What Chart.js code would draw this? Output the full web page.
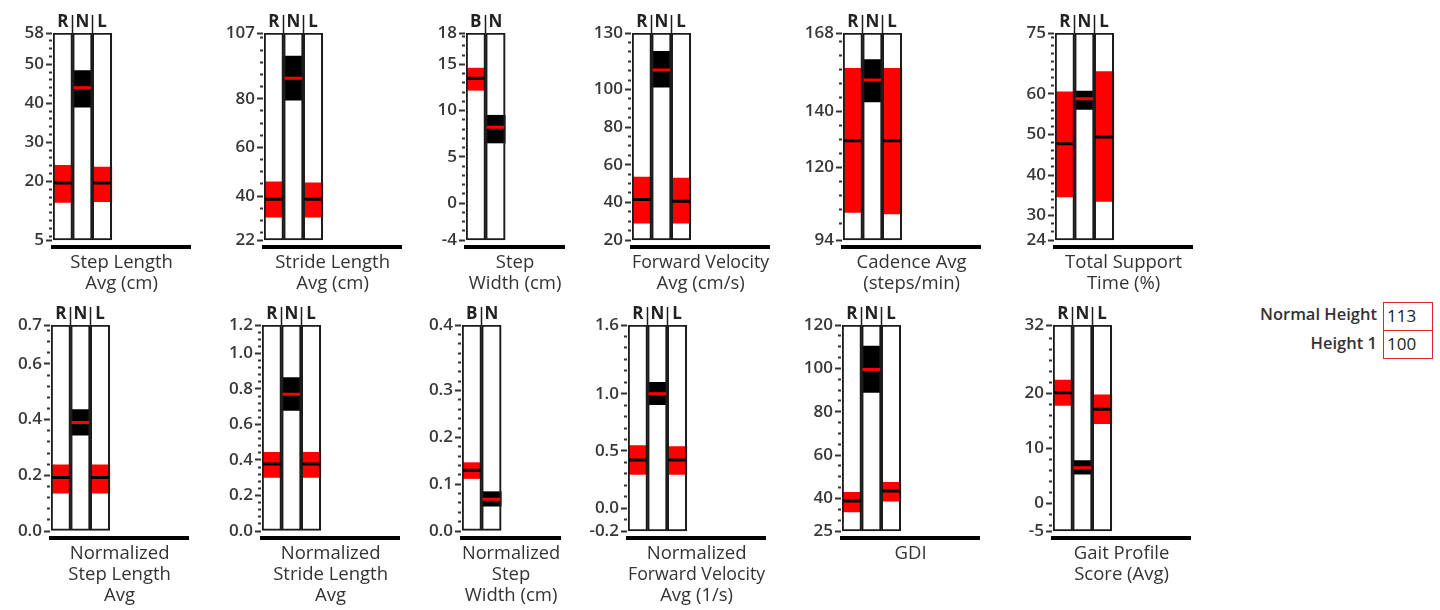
<!DOCTYPE html>
<html>
<head>
<meta charset="utf-8">
<script src="https://cdn.jsdelivr.net/npm/chart.js@4.4.1/dist/chart.umd.min.js"></script>
<style>
  html, body { margin: 0; padding: 0; background: #ffffff; width: 1440px; height: 610px; overflow: hidden; position: relative; }
  .panel { position: absolute; }
  .panel canvas { display: block; }
  .flabel { position: absolute; width: 200px; text-align: right; font-family: 'Open Sans', 'Noto Sans', sans-serif; font-size: 16.5px; font-weight: 600; color: #333; line-height: 20px; }
  .fbox { position: absolute; box-sizing: border-box; border: 1.5px solid #e0242c; font-family: 'Open Sans', 'Noto Sans', sans-serif; font-size: 17px; color: #222; padding-left: 3px; }
</style>
</head>
<body>
<div class="flabel" style="left:1177px; top:304px;">Normal Height</div>
<div class="fbox" style="left:1383px; top:302px; width:50px; height:29px; line-height:26px;">113</div>
<div class="flabel" style="left:1177px; top:333px;">Height 1</div>
<div class="fbox" style="left:1383px; top:330px; width:50px; height:29px; line-height:26px;">100</div>
<script>
// ---------------- DATA ----------------
const colsRNL = ['R', 'N', 'L'];
const colsBN = ['B', 'N'];

// 1 Step Length Avg (cm)
const stepLenTitle = ['Step Length', 'Avg (cm)'];
const stepLenRange = [[14.6, 24.1], [39.0, 48.4], [14.8, 23.7]];
const stepLenMean = [19.6, 44.0, 19.6];
const stepLenAxis = [5, 58];
const stepLenTicks = [5, 20, 30, 40, 50, 58];
const stepLenTickText = ['5', '20', '30', '40', '50', '58'];

// 2 Stride Length Avg (cm)
const strideLenTitle = ['Stride Length', 'Avg (cm)'];
const strideLenRange = [[31.4, 45.9], [79.4, 97.5], [31.4, 45.5]];
const strideLenMean = [38.7, 88.4, 38.7];
const strideLenAxis = [22, 107];
const strideLenTicks = [22, 40, 60, 80, 107];
const strideLenTickText = ['22', '40', '60', '80', '107'];

// 3 Step Width (cm)
const stepWidthTitle = ['Step', 'Width (cm)'];
const stepWidthRange = [[12.2, 14.6], [6.5, 9.5]];
const stepWidthMean = [13.5, 8.2];
const stepWidthAxis = [-4, 18.4];
const stepWidthTicks = [-4, 0, 5, 10, 15, 18.4];
const stepWidthTickText = ['-4', '0', '5', '10', '15', '18'];

// 4 Forward Velocity Avg (cm/s)
const fwdVelTitle = ['Forward Velocity', 'Avg (cm/s)'];
const fwdVelRange = [[28.9, 53.4], [101.2, 120.2], [28.9, 52.9]];
const fwdVelMean = [41.5, 110.4, 40.6];
const fwdVelAxis = [20, 130];
const fwdVelTicks = [20, 40, 60, 80, 100, 130];
const fwdVelTickText = ['20', '40', '60', '80', '100', '130'];

// 5 Cadence Avg (steps/min)
const cadenceTitle = ['Cadence Avg', '(steps/min)'];
const cadenceRange = [[103.9, 155.4], [143.4, 158.5], [103.3, 155.4]];
const cadenceMean = [129.5, 151.2, 129.5];
const cadenceAxis = [94, 168];
const cadenceTicks = [94, 120, 140, 168];
const cadenceTickText = ['94', '120', '140', '168'];

// 6 Total Support Time (%)
const supportTitle = ['Total Support', 'Time (%)'];
const supportRange = [[34.6, 60.5], [56.2, 60.7], [33.5, 65.5]];
const supportMean = [47.7, 58.8, 49.4];
const supportAxis = [24, 75];
const supportTicks = [24, 30, 40, 50, 60, 75];
const supportTickText = ['24', '30', '40', '50', '60', '75'];

// 7 Normalized Step Length Avg
const nStepLenTitle = ['Normalized', 'Step Length', 'Avg'];
const nStepLenRange = [[0.136, 0.238], [0.344, 0.436], [0.136, 0.238]];
const nStepLenMean = [0.192, 0.39, 0.192];
const nStepLenAxis = [0, 0.74];
const nStepLenTicks = [0, 0.2, 0.4, 0.6, 0.74];
const nStepLenTickText = ['0.0', '0.2', '0.4', '0.6', '0.7'];

// 8 Normalized Stride Length Avg
const nStrideLenTitle = ['Normalized', 'Stride Length', 'Avg'];
const nStrideLenRange = [[0.302, 0.443], [0.679, 0.864], [0.302, 0.443]];
const nStrideLenMean = [0.377, 0.77, 0.377];
const nStrideLenAxis = [0, 1.16];
const nStrideLenTicks = [0, 0.2, 0.4, 0.6, 0.8, 1.0, 1.16];
const nStrideLenTickText = ['0.0', '0.2', '0.4', '0.6', '0.8', '1.0', '1.2'];

// 9 Normalized Step Width (cm)
const nStepWidthTitle = ['Normalized', 'Step', 'Width (cm)'];
const nStepWidthRange = [[0.112, 0.146], [0.053, 0.084]];
const nStepWidthMean = [0.13, 0.068];
const nStepWidthAxis = [0, 0.44];
const nStepWidthTicks = [0, 0.1, 0.2, 0.3, 0.44];
const nStepWidthTickText = ['0.0', '0.1', '0.2', '0.3', '0.4'];

// 10 Normalized Forward Velocity Avg (1/s)
const nFwdVelTitle = ['Normalized', 'Forward Velocity', 'Avg (1/s)'];
const nFwdVelRange = [[0.295, 0.546], [0.904, 1.10], [0.295, 0.537]];
const nFwdVelMean = [0.421, 1.0, 0.421];
const nFwdVelAxis = [-0.2, 1.6];
const nFwdVelTicks = [-0.2, 0, 0.5, 1.0, 1.6];
const nFwdVelTickText = ['-0.2', '0.0', '0.5', '1.0', '1.6'];

// 11 GDI
const gdiTitle = ['GDI'];
const gdiRange = [[33.8, 42.8], [88.9, 110.3], [38.8, 47.4]];
const gdiMean = [38.8, 99.5, 43.4];
const gdiAxis = [25, 120];
const gdiTicks = [25, 40, 60, 80, 100, 120];
const gdiTickText = ['25', '40', '60', '80', '100', '120'];

// 12 Gait Profile Score (Avg)
const gpsTitle = ['Gait Profile', 'Score (Avg)'];
const gpsRange = [[17.8, 22.4], [5.3, 7.8], [14.5, 19.7]];
const gpsMean = [20.1, 6.5, 17.1];
const gpsAxis = [-5, 32.4];
const gpsTicks = [-5, 0, 10, 20, 32.4];
const gpsTickText = ['-5', '0', '10', '20', '32'];

const minorSteps = [2, 5, 1, 5, 5, 2, 0.04, 0.04, 0.02, 0.1, 5, 2];

const panels = [
  [stepLenTitle, colsRNL, stepLenRange, stepLenMean, stepLenAxis, stepLenTicks, stepLenTickText],
  [strideLenTitle, colsRNL, strideLenRange, strideLenMean, strideLenAxis, strideLenTicks, strideLenTickText],
  [stepWidthTitle, colsBN, stepWidthRange, stepWidthMean, stepWidthAxis, stepWidthTicks, stepWidthTickText],
  [fwdVelTitle, colsRNL, fwdVelRange, fwdVelMean, fwdVelAxis, fwdVelTicks, fwdVelTickText],
  [cadenceTitle, colsRNL, cadenceRange, cadenceMean, cadenceAxis, cadenceTicks, cadenceTickText],
  [supportTitle, colsRNL, supportRange, supportMean, supportAxis, supportTicks, supportTickText],
  [nStepLenTitle, colsRNL, nStepLenRange, nStepLenMean, nStepLenAxis, nStepLenTicks, nStepLenTickText],
  [nStrideLenTitle, colsRNL, nStrideLenRange, nStrideLenMean, nStrideLenAxis, nStrideLenTicks, nStrideLenTickText],
  [nStepWidthTitle, colsBN, nStepWidthRange, nStepWidthMean, nStepWidthAxis, nStepWidthTicks, nStepWidthTickText],
  [nFwdVelTitle, colsRNL, nFwdVelRange, nFwdVelMean, nFwdVelAxis, nFwdVelTicks, nFwdVelTickText],
  [gdiTitle, colsRNL, gdiRange, gdiMean, gdiAxis, gdiTicks, gdiTickText],
  [gpsTitle, colsRNL, gpsRange, gpsMean, gpsAxis, gpsTicks, gpsTickText]
];

// ---------------- LAYOUT / STYLE ----------------
const panelLeft = [53, 264, 466, 632, 843, 1055, 51, 262, 462, 628, 842, 1053];
const panelRow = [0, 0, 0, 0, 0, 0, 1, 1, 1, 1, 1, 1];
const ROW_TOP = [33, 325];
const LINE_Y = [247, 538];
const COL_GAP = 7;
const COL_W = 19.6;
const Y_AXIS_W = 52, TOP_AXIS_H = 33, RIGHT_PAD = 44;
const TITLE_LH = 21, TITLE_PAD_TOP = 5, TITLE_PAD_BOTTOM = 2;
const FONT = "'Open Sans', 'Noto Sans', 'DejaVu Sans', sans-serif";
const RED = '#ff0000', BLACK = '#000000';

function buildTickValues(axis, majors, step) {
  const vals = majors.slice();
  const k0 = Math.ceil(axis[0] / step - 1e-9);
  for (let k = k0; k * step <= axis[1] + 1e-9; k++) {
    const v = +(k * step).toFixed(6);
    if (!majors.some(m => Math.abs(m - v) < step * 0.3)) vals.push(v);
  }
  return vals.sort((a, b) => a - b);
}

panels.forEach((p, i) => {
  const [title, cols, range, mean, axis, majors, majorText] = p;
  const nCols = cols.length;
  const nCats = nCols === 3 ? 7 : 5;
  const labels = cols.concat(new Array(nCats - nCols).fill(''));
  const row = panelRow[i];
  const top = ROW_TOP[row];
  const plotH = LINE_Y[row] - top;
  const plotW = nCats * COL_W;
  const [cMin, cMax] = axis;
  const yMin = cMin - COL_GAP * (cMax - cMin) / (plotH - COL_GAP);
  const titleH = title.length * TITLE_LH + TITLE_PAD_TOP + TITLE_PAD_BOTTOM;
  const W = Math.round(Y_AXIS_W + plotW + RIGHT_PAD);
  const H = TOP_AXIS_H + plotH + titleH;

  const div = document.createElement('div');
  div.className = 'panel';
  div.style.left = (panelLeft[i] - Y_AXIS_W) + 'px';
  div.style.top = (top - TOP_AXIS_H) + 'px';
  const cv = document.createElement('canvas');
  cv.width = W; cv.height = H;
  cv.style.width = W + 'px'; cv.style.height = H + 'px';
  div.appendChild(cv);
  document.body.appendChild(div);

  const tickVals = buildTickValues(axis, majors, minorSteps[i]);
  const majorIdx = v => majors.findIndex(m => Math.abs(m - v) < 1e-7);
  const rangeColors = cols.map(c => c === 'N' ? BLACK : RED);
  const meanColors = cols.map(c => c === 'N' ? RED : BLACK);
  const frames = cols.map(() => [cMin, cMax]);
  const half = COL_W / 2 - 1;

  new Chart(cv, {
    type: 'bar',
    data: {
      labels: labels,
      datasets: [
        {
          type: 'line', label: 'mean', data: mean, xAxisID: 'x', yAxisID: 'y',
          showLine: false, pointStyle: 'line', pointRadius: half, pointHoverRadius: half,
          pointBorderWidth: 3, pointHoverBorderWidth: 3,
          pointBorderColor: meanColors, pointBackgroundColor: meanColors, order: 0
        },
        {
          type: 'bar', label: 'frame', data: frames, xAxisID: 'x', yAxisID: 'y',
          backgroundColor: 'rgba(0,0,0,0)', borderColor: '#1c1c1c', borderWidth: 1.5,
          borderSkipped: false, grouped: false, barPercentage: 1, categoryPercentage: 1, order: 1
        },
        {
          type: 'bar', label: 'range', data: range, xAxisID: 'x', yAxisID: 'y',
          backgroundColor: rangeColors, borderWidth: 0,
          grouped: false, barPercentage: 1, categoryPercentage: 1, order: 2
        }
      ]
    },
    options: {
      responsive: false,
      animation: false,
      events: [],
      devicePixelRatio: 1,
      layout: { padding: { left: 0, right: W - Y_AXIS_W - plotW, top: 0, bottom: 0 } },
      plugins: { legend: { display: false }, tooltip: { enabled: false }, title: { display: false } },
      scales: {
        x: {
          type: 'category', position: 'top', offset: true,
          afterFit: s => { s.height = TOP_AXIS_H; },
          border: { display: false },
          grid: {
            offset: true, drawOnChartArea: false, drawTicks: true, tickLength: 18, tickWidth: 1.5,
            tickColor: ctx => (ctx.index >= 1 && ctx.index < nCols) ? '#1c1c1c' : 'rgba(0,0,0,0)'
          },
          ticks: {
            autoSkip: false, maxRotation: 0, minRotation: 0, padding: -17,
            color: '#222', font: { family: FONT, size: 17, weight: 'bold' }
          }
        },
        x2: {
          type: 'category', position: 'bottom', offset: true,
          afterFit: s => { s.height = titleH; },
          border: { display: true, color: '#000', width: 4 },
          grid: { display: false, drawTicks: false, drawOnChartArea: false },
          ticks: { display: false },
          title: {
            display: true, text: title, color: '#333',
            font: { family: FONT, size: 18.5, lineHeight: TITLE_LH + 'px' },
            padding: { top: TITLE_PAD_TOP, bottom: TITLE_PAD_BOTTOM }
          }
        },
        y: {
          type: 'linear', position: 'left', min: yMin, max: cMax, bounds: 'data',
          afterBuildTicks: s => { s.ticks = tickVals.map(v => ({ value: v })); },
          afterFit: s => { s.width = Y_AXIS_W; },
          border: { display: false },
          grid: {
            drawOnChartArea: false, drawTicks: true, tickLength: 7, tickWidth: 2, tickColor: '#333',
            tickBorderDash: ctx => (ctx.tick && majorIdx(ctx.tick.value) >= 0) ? [6, 20] : [0, 3, 3, 20]
          },
          ticks: {
            autoSkip: false, padding: 2, color: '#383838',
            font: { family: FONT, size: 17, weight: '600' },
            callback: v => { const k = majorIdx(v); return k >= 0 ? majorText[k] : ''; }
          }
        }
      }
    }
  });
});
</script>
</body>
</html>
